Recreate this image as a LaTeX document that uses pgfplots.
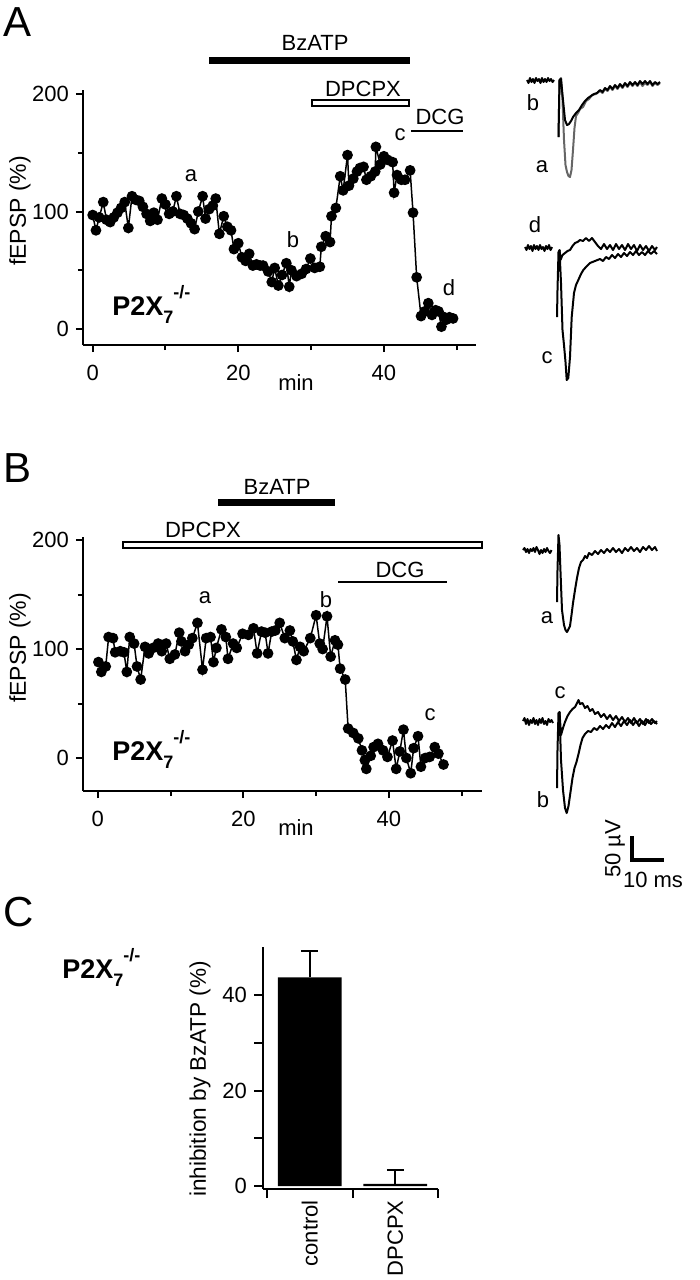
\documentclass[border=0pt]{standalone}
\usepackage{pgfplots}
\pgfplotsset{compat=1.18}
\usepackage{fontspec}
\setmainfont{Liberation Sans}
\newcommand{\ptx}{\textbf{P2X}\raisebox{-4pt}{\fontsize{9}{9}\selectfont\bfseries 7}\raisebox{8.5pt}{\fontsize{9}{9}\selectfont\bfseries -/-}}
\pgfplotsset{
  phys/.style={scale only axis, anchor=south west, clip=false,
    axis x line*=bottom, axis y line*=left,
    axis line style={line width=1pt, -},
    every tick/.style={line width=1pt, black},
    tick align=outside, major tick length=3.5pt, minor tick length=2.5pt,
    tick label style={font=\fontsize{11}{13}\selectfont},
    /pgf/number format/assume math mode=true},
  ser/.style={black, line width=0.75pt, mark=*, mark size=2.3pt, mark options={fill=black, draw=black}},
  tr/.style={black, line width=1pt, line join=round, no marks},
}
\begin{document}
\begin{tikzpicture}[font=\fontsize{11}{13}\selectfont]
\path[use as bounding box] (0,0) rectangle (350pt,-640pt);

% ---------------- Panel A ----------------
\begin{axis}[phys, at={(41.5pt,-172.5pt)}, width=196.5pt, height=127.5pt,
  xmin=-1.33, xmax=52.65, ymin=-13.6, ymax=203.4,
  xticklabel style={yshift=-3pt},
  xtick={0,20,40}, minor xtick={10,30,50}, ytick={0,100,200}, minor ytick={50,150}]
\addplot[ser] table {
x y
0 97
0.45 84
0.9 95
1.45 108
1.9 93
2.4 91
2.9 95
3.4 99
3.9 103
4.4 108
4.9 86
5.4 113
5.9 110
6.4 109
6.9 104
7.4 98
7.9 92
8.4 99
8.9 93
9.5 111
10 106
10.5 98
11 100
11.5 113
12 98
12.5 97
13 94
13.5 90
14 85
14.5 100
15.1 113
15.5 94
16 102
16.5 105
16.9 111
17.4 81
18 96
18.5 87
19 84
19.4 68
20 73
20.5 61
21 58
21.5 64
22.0 54
22.5 55
23.0 54
23.4 54
24.1 49
24.6 40
25.0 52
25.5 37
26.0 46
26.6 56
27.0 36
27.3 50
28.0 45
28.7 47
29.3 51
29.9 60
30.5 52
31.2 53
31.4 70
32.0 79
32.6 74
32.8 96
33.4 103
34.0 130
34.4 118
35.0 148
35.2 122
35.8 128
36.3 134
36.7 137
37.2 138
37.6 127
38.2 130
38.8 134
38.9 155
39.5 140
40.0 147
40.5 144
41.2 142
41.4 116
41.8 131
42.4 127
42.9 127
43.6 135
44.0 99
44.5 44
45.1 11
45.6 15
46.1 22
46.6 12
47.1 16
47.5 15
47.9 2
48.3 10
48.6 8
49.0 10
49.5 9
};
\end{axis}

% ---------------- Panel B ----------------
\begin{axis}[phys, at={(41.5pt,-395.5pt)}, width=199.5pt, height=127pt,
  xmin=-2.02, xmax=52.79, ymin=-30.3, ymax=202.8,
  xticklabel style={yshift=-3pt},
  xtick={0,20,40}, minor xtick={10,30,50}, ytick={0,100,200}, minor ytick={50,150}]
\addplot[ser] table {
x y
0.1 88
0.5 79
1.1 84
1.5 111
2.1 110
2.4 97
3.1 98
3.6 97
4.0 79
4.4 111
5.0 105
5.4 84
5.9 72
6.5 102
7.0 96
7.6 101
8.3 105
8.8 98
9.4 105
9.9 91
10.6 95
11.2 115
11.5 107
12.0 98
12.5 104
13.0 110
13.7 124
14.4 81
14.9 110
15.5 111
15.9 88
16.3 101
17.0 118
17.6 111
17.9 91
18.6 105
19.1 101
19.9 114
20.7 113
21.4 119
21.9 96
22.5 116
23.0 115
23.4 96
23.9 116
24.4 117
25.0 124
25.7 110
26.4 117
26.8 107
27.3 90
27.8 102
28.3 98
29.2 110
30.0 131
30.5 105
30.9 100
31.5 130
32.0 93
32.6 108
33.0 104
33.3 82
34.0 72
34.4 27
35.1 23
35.8 18
36.3 7
36.7 -2
36.9 -10
37.5 2
37.9 10
38.5 13
39.2 7
39.8 1
40.5 16
41.0 -10
41.5 6
42.0 26
42.4 0
43.0 -14
43.4 9
44.0 20
44.4 -8
45.0 0
45.6 1
46.3 10
46.8 4
47.5 -6
};
\end{axis}

% ---------------- Panel C ----------------
\begin{axis}[phys, at={(131.5pt,-594.5pt)}, width=87.5pt, height=121pt,
  xmin=-0.547, xmax=1.5, ymin=-0.63, ymax=50.05,
  major tick length=4.5pt, minor tick length=4.5pt,
  ytick={0,20,40}, minor ytick={10,30},
  xtick={0,1}, xticklabels={control,DPCPX},
  major x tick style={draw=none},
  minor xtick={-0.5,0.5,1.5},
  xticklabel style={rotate=90, anchor=east, inner sep=1pt}]
\addplot[ybar, bar width=0.744, fill=black, draw=none,
  error bars/.cd, y dir=plus, y explicit,
  error bar style={draw=black, line width=1pt},
  error mark options={draw=black, line width=1pt, mark size=4.25pt, rotate=90}]
  coordinates {(0,43.7) +- (0,5.6) (1,0.45) +- (0,3.0)};
\end{axis}

% ---------------- Overlay (pixel coordinates) ----------------
\begin{axis}[at={(0pt,0pt)}, anchor=north west, scale only axis, width=350pt, height=640pt,
  xmin=0, xmax=700, ymin=0, ymax=1280, y dir=reverse, hide axis, clip=false]
% panel letters
\node[font=\fontsize{21}{24}\selectfont] at (axis cs:18,22) {A};
\node[font=\fontsize{21}{24}\selectfont] at (axis cs:18,468) {B};
\node[font=\fontsize{21}{24}\selectfont] at (axis cs:19,912) {C};
% axis labels
\node[rotate=90, font=\fontsize{11.5}{13}\selectfont] at (axis cs:20,211) {fEPSP (\%)};
\node[rotate=90, font=\fontsize{11.5}{13}\selectfont] at (axis cs:20,648) {fEPSP (\%)};
\node at (axis cs:296,383) {min};
\node at (axis cs:296,828) {min};
\node[rotate=90, font=\fontsize{11.3}{13}\selectfont] at (axis cs:200,1079) {inhibition by BzATP (\%)};
% genotype labels
\node[anchor=base west, inner sep=0pt, font=\fontsize{13.5}{15}\selectfont] at (axis cs:112,315) {\ptx};
\node[anchor=base west, inner sep=0pt, font=\fontsize{13.5}{15}\selectfont] at (axis cs:112,760) {\ptx};
\node[anchor=base west, inner sep=0pt, font=\fontsize{13.5}{15}\selectfont] at (axis cs:62,978) {\ptx};
% drug bars panel A
\fill (axis cs:209,56.5) rectangle (axis cs:410,63.5);
\node at (axis cs:315,43) {BzATP};
\draw[line width=1pt, fill=white] (axis cs:312,100) rectangle (axis cs:409,106);
\node at (axis cs:363,89) {DPCPX};
\draw[line width=1pt] (axis cs:411,131) -- (axis cs:463,131);
\node at (axis cs:440,117) {DCG};
% drug bars panel B
\fill (axis cs:218,498.5) rectangle (axis cs:335,505.5);
\node at (axis cs:277,487) {BzATP};
\draw[line width=1pt, fill=white] (axis cs:123,542) rectangle (axis cs:482,548);
\node at (axis cs:203,530) {DPCPX};
\draw[line width=1pt] (axis cs:338,582) -- (axis cs:447,582);
\node at (axis cs:400,570) {DCG};
% time point letters
\node at (axis cs:191,176) {a};
\node at (axis cs:293,240) {b};
\node at (axis cs:400,135) {c};
\node at (axis cs:449,288) {d};
\node at (axis cs:205,598) {a};
\node at (axis cs:326,600) {b};
\node at (axis cs:430,715) {c};
% trace letters
\node at (axis cs:533,103) {b};
\node at (axis cs:542,167) {a};
\node at (axis cs:535,225) {d};
\node at (axis cs:547,358) {c};
\node at (axis cs:547,618) {a};
\node at (axis cs:560,693) {c};
\node at (axis cs:543,800) {b};
% scale bar
\addplot[black, line width=2pt, line join=miter, no marks] coordinates {(632,836) (632,860) (664,860)};
\node[rotate=90] at (axis cs:615,849) {50 µV};
\node at (axis cs:653,880) {10 ms};

% ---- traces A, top (a gray, b black)
\addplot[tr] coordinates {(527,80)(528.5,83)(530,78)(531.5,82)(533,79)(534.5,83)(536,78)(537.5,81)(539,79)(540.5,83)(542,78)(543.5,82)(545,79)(546.5,82)(548,78)(549.5,81)(551,79)(552.5,82)(554,80)};
\addplot[tr, black!60] coordinates {(558.5,137)(559.5,80)(561,78)(562.5,100)(564,140)(565.5,165)(567,172)(568.5,176)(570,177)(571.5,170)(573,150)(574.5,128)(576,116)(578,113)(580,109)(583,107)(586,101)(589,99)(592,95)(596,94)(600,91)(602.5,93)(605,89)(607.5,91)(610,87)(612.5,90)(615,86)(617.5,89)(620,85)(622.5,88)(625,84)(627.5,87)(630,83)(632.5,86)(635,83)(637.5,86)(640,82)(642.5,86)(645,83)(647.5,85)(650,82)(652.5,86)(655,83)(657.5,85)(660,83)};
\addplot[tr] coordinates {(558.5,137)(559.5,80)(561,79)(563,100)(565,120)(567,125)(569,124)(571,121)(573,117)(576,113)(579,110)(582,105)(585,101)(588,98)(591,96)(594,94)(597,93)(600,90)(602.5,92)(605,88)(607.5,90)(610,86)(612.5,89)(615,85)(617.5,88)(620,84)(622.5,87)(625,83)(627.5,86)(630,82)(632.5,85)(635,82)(637.5,85)(640,81)(642.5,84)(645,81)(647.5,84)(650,81)(652.5,85)(655,82)(657.5,84)(660,82)};
% ---- traces A, bottom (c, d)
\addplot[tr] coordinates {(525,247)(526.5,250)(528,245)(529.5,249)(531,246)(532.5,251)(534,245)(535.5,249)(537,246)(538.5,250)(540,245)(541.5,249)(543,247)(544.5,251)(546,246)(547.5,249)(549,245)(550.5,250)(552,247)};
\addplot[tr] coordinates {(557,317)(557.5,290)(558.5,252)(559.5,250)(561,283)(562.5,330)(564,345)(565.5,362)(566.7,380)(568.3,378)(570,357)(571.7,317)(574,293)(576,285)(578.3,280)(581,274)(583.3,270)(586,267)(590,263)(595,261)(600,259)(603,261)(606,257)(609,259)(612,255)(615,258)(618,254)(621,257)(624,253)(627,256)(630,252)(633,255)(636,251)(639,255)(642,252)(645,255)(648,251)(651,254)(654,251)(657,254)};
\addplot[tr] coordinates {(559.5,250)(560.5,260)(562.5,255)(565,253)(567.5,251)(570,250)(572.5,246)(575,243)(577.5,242)(580,240)(583,241)(586,238)(589,241)(592,238)(595,242)(598,246)(601,249)(604,244)(607,249)(610,245)(613,250)(616,244)(619,249)(622,245)(625,250)(628,244)(631,249)(634,245)(637,251)(640,245)(643,250)(646,246)(649,251)(652,246)(655,250)(657,247)};
% ---- traces B, top (a)
\addplot[tr] coordinates {(523,550)(524.5,548)(526,552)(527.5,549)(529,553)(530.5,549)(532,551)(533.5,548)(535,552)(536.5,547)(538,550)(539.5,554)(541,550)(542.5,553)(544,549)(545.5,552)(547,548)(548.5,551)(550,553)(551.5,550)};
\addplot[tr] coordinates {(557,602)(557.5,570)(558.5,535)(559.5,545)(561,585)(562,610)(564,625)(565.5,630)(567,632)(568.5,629)(570,626)(571.5,615)(573,603)(575,590)(577,578)(579,568)(581,562)(583,560)(585,556)(587,558)(589,553)(592,555)(595,551)(598,554)(601,550)(604,553)(607,549)(610,552)(613,548)(616,552)(619,549)(622,553)(625,548)(628,551)(631,547)(634,551)(637,548)(640,552)(643,547)(646,550)(649,546)(652,550)(655,547)(657,551)};
% ---- traces B, bottom (b, c)
\addplot[tr] coordinates {(523,721)(524.5,718)(526,724)(527.5,719)(529,725)(530.5,720)(532,723)(533.5,718)(535,724)(536.5,720)(538,725)(539.5,719)(541,723)(542.5,718)(544,724)(545.5,721)(547,725)(548.5,719)(550,722)(551.5,720)(553,723)};
\addplot[tr] coordinates {(557,788)(557.5,750)(558.5,713)(559.5,712)(561,760)(563,790)(565,808)(566.7,813)(568.5,806)(570.5,792)(572.5,778)(574.5,768)(576.5,762)(578.5,754)(580.5,745)(582.5,738)(585,734)(588,731)(591,732)(594,728)(597,730)(600,726)(603,729)(606,725)(609,728)(612,723)(615,727)(618,722)(621,726)(624,721)(627,725)(630,720)(633,725)(636,721)(639,726)(642,721)(645,725)(648,720)(651,724)(654,721)(657,724)};
\addplot[tr] coordinates {(559.5,712)(561,735)(563,728)(565,722)(567.5,716)(570,712)(572.5,709)(575,707)(577,703)(578.5,700)(580,704)(582.5,703)(585,708)(587.5,706)(590,711)(592.5,709)(595,714)(598,712)(601,717)(604,714)(607,719)(610,715)(613,720)(616,716)(619,721)(622,717)(625,722)(628,718)(631,723)(634,718)(637,723)(640,719)(643,724)(646,719)(649,723)(652,719)(655,723)(657,721)};
\end{axis}
\end{tikzpicture}
\end{document}
